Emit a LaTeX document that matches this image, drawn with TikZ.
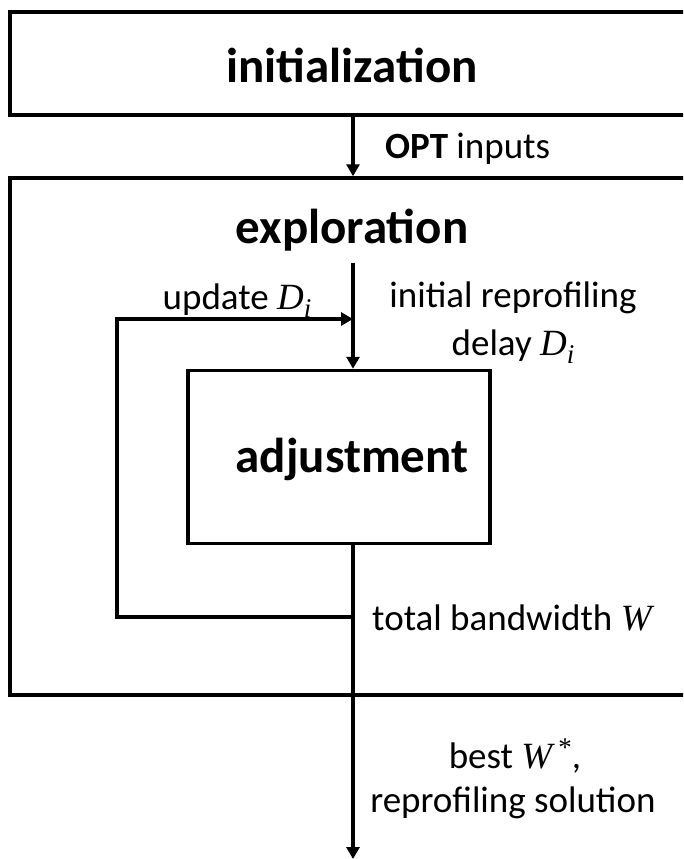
\documentclass[tikz,border=0pt]{standalone}
\usepackage{fontspec}
\setmainfont{Carlito}
\newfontfamily\mserif{Liberation Serif}
\newcommand\mvar[1]{{\mserif\itshape #1}}
\newcommand\Di{\mvar{D}\raisebox{-0.22em}{\fontsize{27}{27}\selectfont\mvar{i}}}
\newcommand\Wstar{\mvar{W}\,\raisebox{0.3em}{\fontsize{27}{27}\selectfont\mserif *}}
\usetikzlibrary{arrows.meta}
\begin{document}
\begin{tikzpicture}[x=1pt,y=-1pt,
  box/.style={draw, line width=3.5pt, rectangle, inner sep=0pt},
  ttl/.style={font=\fontsize{49}{58}\selectfont\bfseries, inner sep=0pt, anchor=base},
  lbl/.style={font=\fontsize{37}{48}\selectfont, align=center, inner sep=0pt},
  conn/.style={line width=3.5pt},
  arr/.style={conn, -{Triangle[length=12pt,width=13pt]}}]
\useasboundingbox (0,0) rectangle (683,859);
\clip (0,0) rectangle (683,859);
\coordinate (ax) at (353,0);
% boxes
\node[box, minimum width=710pt, minimum height=103pt] (init) at (365,63.5) {};
\node[box, minimum width=710pt, minimum height=517pt] (expl) at (365,436.5) {};
\node[box, minimum width=302pt, minimum height=173pt] (adj) at (339,457) {};
% titles
\node[ttl] (tinit) at (352,82) {initialization};
\node[ttl] (texpl) at (352,243) {exploration};
\node[ttl] (tadj) at (352,472) {adjustment};
% connectors
\coordinate (es) at (353,263);
\coordinate (fbB) at (117,617);
\coordinate (fbT) at (117,319);
\coordinate (outE) at (353,859);
\draw[arr] (init.south -| ax) -- (expl.north -| ax);
\draw[arr] (es) -- (adj.north -| ax);
\draw[arr] (fbB -| ax) -- (fbB) -- (fbT) -- (fbT -| ax);
\draw[arr] (adj.south -| ax) -- (outE);
% labels
\node[lbl, anchor=base west] (lopt) at (385,158) {\textbf{OPT} inputs};
\node[lbl, anchor=base] (lupd) at (237,309) {update \Di};
\node[lbl, anchor=base] (linit) at (513,307) {initial reprofiling};
\node[lbl, anchor=base] (ldel) at (513,355) {delay \Di};
\node[lbl, anchor=base west] (ltot) at (372,630) {total bandwidth \mvar{W}};
\node[lbl, anchor=base] (lbest) at (515,768) {best \Wstar,};
\node[lbl, anchor=base] (lsol) at (513,812) {reprofiling solution};
\end{tikzpicture}
\end{document}
